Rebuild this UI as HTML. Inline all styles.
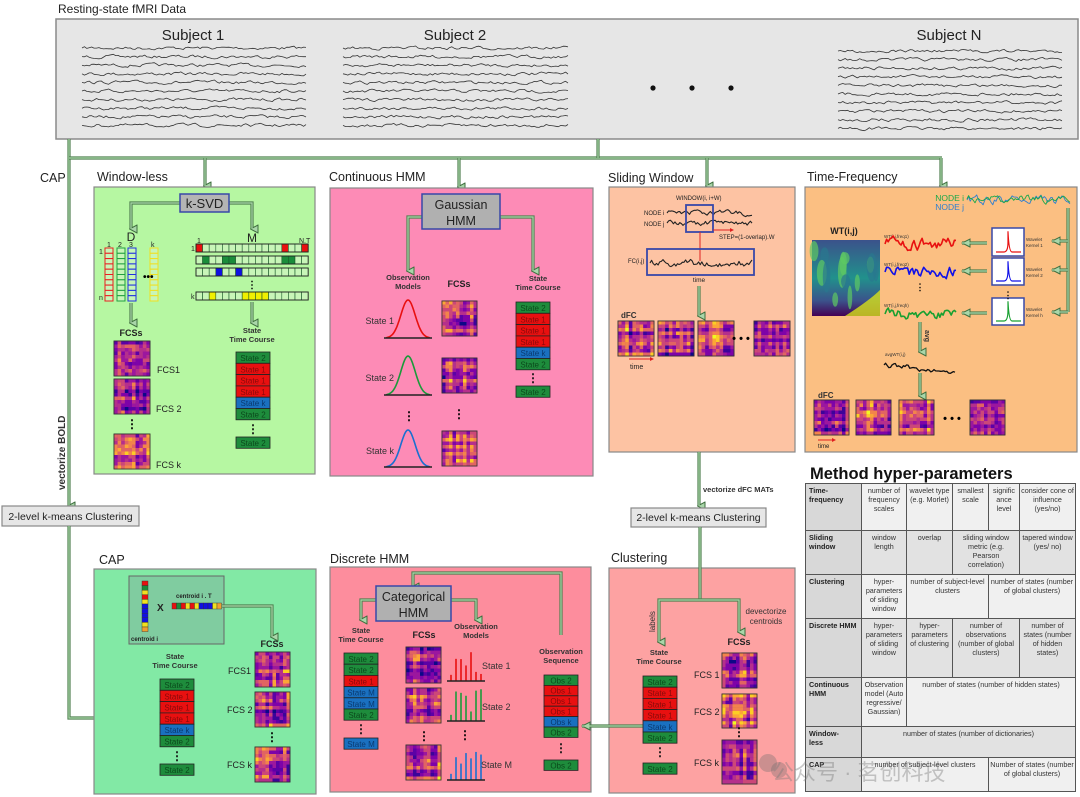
<!DOCTYPE html>
<html><head><meta charset="utf-8"><style>
html,body{margin:0;padding:0;background:#fff;width:1080px;height:797px;overflow:hidden}
svg{display:block;font-family:"Liberation Sans",sans-serif}
.c{fill:none;stroke:#4f7f4f;stroke-width:3.2}
.ci{fill:none;stroke:#a9d6a9;stroke-width:1.2}
.t{font-size:12.5px;fill:#222}
.s{font-size:7px;fill:#222}
.b{font-weight:bold}
#tbl{position:absolute;left:805px;top:483px;width:270px;height:308px;border:1.5px solid #555;border-collapse:collapse;font-family:"Liberation Sans",sans-serif;font-size:7.2px;color:#333;table-layout:fixed}
#tbl td{border:1px solid #555;vertical-align:top;text-align:center;padding:2px 1px;line-height:1.25;background:#f0f0f0}
#tbl td.h{background:#d8d8d8;text-align:left;font-weight:bold;color:#222;padding-left:3px}
#tbl td.d{background:#e2e2e2}
#wm{position:absolute;left:772px;top:755px;font-size:22px;color:rgba(120,120,120,0.4);font-family:"Liberation Sans","Noto Sans CJK SC",sans-serif;white-space:nowrap}
</style></head><body>
<svg id="S" width="1080" height="797" viewBox="0 0 1080 797" xmlns="http://www.w3.org/2000/svg">
<defs>
<marker id="ar" markerWidth="9" markerHeight="9" refX="4.5" refY="7" orient="auto" markerUnits="userSpaceOnUse" viewBox="0 0 9 9">
<path d="M0.5,1 L8.5,1 L4.5,8.5 Z" fill="#a9d6a9" stroke="#3f6f3f" stroke-width="1"/></marker>
<marker id="al" markerWidth="10" markerHeight="10" refX="9" refY="5" orient="auto" markerUnits="userSpaceOnUse" viewBox="0 0 10 10">
<path d="M1,1 L9,5 L1,9 Z" fill="#a9d6a9" stroke="#3f6f3f" stroke-width="1"/></marker>
<linearGradient id="vir" x1="0" y1="0" x2="0" y2="1"><stop offset="0" stop-color="#3b528b"/><stop offset=".5" stop-color="#21918c"/><stop offset=".8" stop-color="#3b528b"/><stop offset="1" stop-color="#440154"/></linearGradient>
</defs>

<text x="58" y="13" class="t" style="font-size:12px">Resting-state fMRI Data</text>
<rect x="56" y="19" width="1022" height="120" fill="#e6e6e6" stroke="#8a8a8a" stroke-width="1.5"/>
<text x="193" y="40" text-anchor="middle" style="font-size:15px" fill="#222">Subject 1</text>
<text x="455" y="40" text-anchor="middle" style="font-size:15px" fill="#222">Subject 2</text>
<text x="949" y="40" text-anchor="middle" style="font-size:15px" fill="#222">Subject N</text>
<circle cx="653" cy="88" r="2.6" fill="#111"/><circle cx="692" cy="88" r="2.6" fill="#111"/><circle cx="731" cy="88" r="2.6" fill="#111"/>
<g id="sq"></g>

<polyline class="c" points="69,139 69,506" marker-end="url(#ar)"/>
<polyline class="c" points="69,158 942,158"/>
<polyline class="c" points="598,139 598,158"/>
<polyline class="c" points="205,158 205,186" marker-end="url(#ar)"/>
<polyline class="c" points="459,158 459,187" marker-end="url(#ar)"/>
<polyline class="c" points="707,158 707,186" marker-end="url(#ar)"/>
<polyline class="c" points="941,158 941,186" marker-end="url(#ar)"/>
<text x="40" y="182" class="t">CAP</text>
<text transform="translate(65,490) rotate(-90)" style="font-size:10px;font-weight:bold" fill="#333">vectorize BOLD</text>

<text x="97" y="181" class="t">Window-less</text>
<rect x="94" y="187" width="221" height="287" fill="#b6f7a2" stroke="#888" stroke-width="1.2"/>
<polyline class="c" points="180,203 131,203 131,229" marker-end="url(#ar)"/>
<polyline class="c" points="229,203 252,203 252,229" marker-end="url(#ar)"/>
<rect x="180" y="194" width="49" height="18" fill="#b4b4b4" stroke="#3848a8" stroke-width="1.5"/>
<text x="204.5" y="208" text-anchor="middle" style="font-size:13px" fill="#222">k-SVD</text>
<text x="131" y="241" text-anchor="middle" style="font-size:12px" fill="#222">D</text>
<text x="252" y="242" text-anchor="middle" style="font-size:12px" fill="#222">M</text>
<g class="s"><text x="107" y="247">1</text><text x="118" y="247">2</text><text x="129" y="247">3</text><text x="151" y="247">k</text><text x="99" y="254">1</text><text x="99" y="300">n</text><text x="197" y="243">1</text><text x="299" y="243">N.T</text><text x="191" y="251">1</text><text x="191" y="299">k</text></g>
<g id="dcols"></g><g id="mrows"></g>
<text x="143" y="280" style="font-size:10px;font-weight:bold">•••</text>
<text x="252" y="288" text-anchor="middle" style="font-size:10px;font-weight:bold">⋮</text>
<polyline class="c" points="131,303 131,323" marker-end="url(#ar)"/>
<polyline class="c" points="252,302 252,323" marker-end="url(#ar)"/>
<text x="131" y="336" text-anchor="middle" style="font-size:9px;font-weight:bold" fill="#222">FCSs</text>
<text x="252" y="333" text-anchor="middle" style="font-size:7.5px;font-weight:bold" fill="#333">State</text>
<text x="252" y="342" text-anchor="middle" style="font-size:7.5px;font-weight:bold" fill="#333">Time Course</text>
<g class="hm" data-r="114,341,36,35,2"></g><g class="hm" data-r="114,379,36,35,3"></g><g class="hm" data-r="114,434,36,35,4"></g>
<text x="132" y="428" text-anchor="middle" style="font-size:12px;font-weight:bold">⋮</text>
<text x="157" y="373" style="font-size:9px" fill="#222">FCS1</text><text x="156" y="412" style="font-size:9px" fill="#222">FCS 2</text><text x="156" y="468" style="font-size:9px" fill="#222">FCS k</text>

<text x="329" y="181" class="t">Continuous HMM</text>
<rect x="330" y="188" width="263" height="288" fill="#fd8bb6" stroke="#888" stroke-width="1.2"/>
<polyline class="c" points="422,217 408,217 408,271" marker-end="url(#ar)"/>
<polyline class="c" points="500,217 533,217 533,271" marker-end="url(#ar)"/>
<rect x="422" y="194" width="78" height="35" fill="#b0b0b0" stroke="#3848a8" stroke-width="1.5"/>
<text x="461" y="209" text-anchor="middle" style="font-size:12.5px" fill="#222">Gaussian</text>
<text x="461" y="225" text-anchor="middle" style="font-size:12.5px" fill="#222">HMM</text>
<text x="408" y="280" text-anchor="middle" style="font-size:7.5px;font-weight:bold" fill="#333">Observation</text>
<text x="408" y="289" text-anchor="middle" style="font-size:7.5px;font-weight:bold" fill="#333">Models</text>
<text x="459" y="287" text-anchor="middle" style="font-size:9px;font-weight:bold" fill="#222">FCSs</text>
<text x="538" y="281" text-anchor="middle" style="font-size:7.5px;font-weight:bold" fill="#333">State</text>
<text x="538" y="290" text-anchor="middle" style="font-size:7.5px;font-weight:bold" fill="#333">Time Course</text>
<g id="gauss"></g>
<text x="394" y="324" text-anchor="end" style="font-size:9px" fill="#333">State 1</text>
<text x="394" y="381" text-anchor="end" style="font-size:9px" fill="#333">State 2</text>
<text x="394" y="454" text-anchor="end" style="font-size:9px" fill="#333">State k</text>
<text x="409" y="420" text-anchor="middle" style="font-size:12px;font-weight:bold">⋮</text>
<text x="459" y="418" text-anchor="middle" style="font-size:12px;font-weight:bold">⋮</text>
<g class="hm" data-r="442,301,35,35,5"></g><g class="hm" data-r="442,358,35,35,6"></g><g class="hm" data-r="442,431,35,35,7"></g>

<text x="608" y="182" class="t">Sliding Window</text>
<rect x="609" y="187" width="186" height="265" fill="#fdc3a3" stroke="#888" stroke-width="1.2"/>
<text x="676" y="200" class="s" style="font-size:6px">WINDOW(i, i+W)</text>
<text x="644" y="215" class="s" style="font-size:6px">NODE i</text><text x="644" y="226" class="s" style="font-size:6px">NODE j</text>
<g class="sig" data-r="667,752,213,3,#222,1.1,11"></g><g class="sig" data-r="667,752,223,3,#222,1.1,12"></g>
<rect x="686" y="205" width="27" height="27" fill="none" stroke="#3848a8" stroke-width="1.8"/>
<line x1="713" y1="230" x2="730" y2="230" stroke="#e02020" stroke-width="1"/><path d="M730,228 L734,230 L730,232Z" fill="#e02020"/>
<text x="719" y="239" class="s" style="font-size:6px">STEP=(1-overlap).W</text>
<line x1="700" y1="232" x2="700" y2="261" stroke="#e02020" stroke-width="1"/>
<rect x="647" y="249" width="107" height="26" fill="none" stroke="#3848a8" stroke-width="1.8"/>
<g class="sig" data-r="650,752,263,4,#222,1.1,13"></g>
<text x="628" y="263" class="s" style="font-size:6px">FC(i,j)</text>
<text x="699" y="282" text-anchor="middle" class="s" style="font-size:6.5px">time</text>
<polyline class="c" points="699,286 699,316" marker-end="url(#ar)"/>
<text x="621" y="318" style="font-size:8px;font-weight:bold" fill="#333">dFC</text>
<g class="hm" data-r="618,321,36,35,8"></g><g class="hm" data-r="658,321,36,35,9"></g><g class="hm" data-r="698,321,36,35,10"></g><g class="hm" data-r="754,321,36,35,11"></g>
<text x="741" y="342" text-anchor="middle" style="font-size:11px;font-weight:bold">• • •</text>
<line x1="629" y1="359" x2="650" y2="359" stroke="#e02020" stroke-width="1"/><path d="M650,357 L654,359 L650,361Z" fill="#e02020"/>
<text x="630" y="369" class="s" style="font-size:7px">time</text>
<polyline class="c" points="699,452 699,506" marker-end="url(#ar)"/>
<text x="703" y="492" style="font-size:7.5px;font-weight:bold" fill="#333">vectorize dFC MATs</text>

<text x="807" y="181" class="t">Time-Frequency</text>
<rect x="805" y="187" width="272" height="265" fill="#fbbf82" stroke="#888" stroke-width="1.2"/>
<text x="964" y="201" text-anchor="end" style="font-size:8.5px" fill="#1aa84a">NODE i</text>
<text x="964" y="210" text-anchor="end" style="font-size:8.5px" fill="#2e7fd0">NODE j</text>
<g class="sig" data-r="967,1070,200,5,#2e7fd0,0.9,21"></g><g class="sig" data-r="967,1070,199,5,#1aa84a,0.9,22"></g>
<polyline class="c" points="1068,208 1068,312"/>
<polyline class="c" points="1068,241 1052,241" marker-end="url(#al)"/>
<polyline class="c" points="1068,270 1052,270" marker-end="url(#al)"/>
<polyline class="c" points="1068,312 1052,312" marker-end="url(#al)"/>
<text x="844" y="234" text-anchor="middle" style="font-size:9px;font-weight:bold" fill="#222">WT(i,j)</text>
<rect x="812" y="240" width="68" height="76" fill="url(#vir)"/>
<g id="wt"></g>
<rect x="992" y="228" width="32" height="28" fill="#fff" stroke="#3848a8" stroke-width="1.5"/>
<rect x="992" y="258" width="32" height="27" fill="#fff" stroke="#3848a8" stroke-width="1.5"/>
<rect x="992" y="298" width="32" height="27" fill="#fff" stroke="#3848a8" stroke-width="1.5"/>
<path d="M996,252 L1004,252 Q1008,252 1008,242 Q1008,230 1008,232 Q1009,252 1012,252 L1021,252" fill="none" stroke="#e81010" stroke-width="1.2"/>
<path d="M996,281 L1004,281 Q1008,281 1008,270 Q1008,260 1008,262 Q1009,281 1012,281 L1021,281" fill="none" stroke="#1010e8" stroke-width="1.2"/>
<path d="M996,321 L1004,321 Q1008,321 1008,310 Q1008,300 1008,302 Q1009,321 1012,321 L1021,321" fill="none" stroke="#18a030" stroke-width="1.2"/>
<g style="font-size:4.5px" fill="#333"><text x="1026" y="241">Wavelet</text><text x="1026" y="247">Kernel 1</text><text x="1026" y="271">Wavelet</text><text x="1026" y="277">Kernel 2</text><text x="1026" y="311">Wavelet</text><text x="1026" y="317">Kernel h</text></g>
<text x="1008" y="298" text-anchor="middle" style="font-size:9px;font-weight:bold">⋮</text>
<text x="920" y="290" text-anchor="middle" style="font-size:9px;font-weight:bold">⋮</text>
<polyline class="c" points="987,243 962,243" marker-end="url(#al)"/>
<polyline class="c" points="987,271 962,271" marker-end="url(#al)"/>
<polyline class="c" points="987,313 962,313" marker-end="url(#al)"/>
<g style="font-size:4.5px" fill="#333"><text x="884" y="238">WT(i,j,freq1)</text><text x="884" y="266">WT(i,j,freq2)</text><text x="884" y="307">WT(i,j,freqh)</text></g>
<g class="sig" data-r="885,956,244,7,#e81010,1.6,31"></g>
<g class="sig" data-r="885,956,272,7,#1010e8,1.6,32"></g>
<g class="sig" data-r="885,956,314,6,#18a030,1.6,33"></g>
<polyline class="c" points="920,322 920,352" marker-end="url(#ar)"/>
<text transform="translate(925,330) rotate(90)" style="font-size:7px;font-weight:bold" fill="#333">avg</text>
<text x="885" y="356" style="font-size:4.5px" fill="#333">avgWT(i,j)</text>
<g class="sig" data-r="884,955,365,3,#111,1.3,34" data-slope="7"></g>
<polyline class="c" points="920,373 920,396" marker-end="url(#ar)"/>
<text x="818" y="398" style="font-size:8px;font-weight:bold" fill="#333">dFC</text>
<g class="hm" data-r="814,400,35,35,12"></g><g class="hm" data-r="856,400,35,35,13"></g><g class="hm" data-r="899,400,35,35,14"></g><g class="hm" data-r="970,400,35,35,15"></g>
<text x="952" y="422" text-anchor="middle" style="font-size:11px;font-weight:bold">• • •</text>
<line x1="818" y1="440" x2="832" y2="440" stroke="#e02020" stroke-width="1"/><path d="M832,438 L836,440 L832,442Z" fill="#e02020"/>
<text x="818" y="448" class="s" style="font-size:6px">time</text>

<rect x="2" y="506" width="137" height="20" fill="#e6e6e6" stroke="#888" stroke-width="1.2"/>
<text x="70.5" y="520" text-anchor="middle" style="font-size:10.5px" fill="#222">2-level k-means Clustering</text>
<polyline class="c" points="69,526 69,718 160,718" marker-end="url(#al)"/>
<polyline class="c" points="109,718 109,609 128,609" marker-end="url(#al)"/>
<text x="123" y="713" style="font-size:9px" fill="#333">labels</text>

<text x="99" y="564" class="t">CAP</text>
<rect x="94" y="569" width="222" height="225" fill="#82e9a5" stroke="#888" stroke-width="1.2"/>
<rect x="129" y="576" width="95" height="68" fill="#80cca0" stroke="#666" stroke-width="1"/>
<g id="cbar"></g>
<text x="157" y="611" style="font-size:10px;font-weight:bold" fill="#222">X</text>
<text x="176" y="598" style="font-size:6px;font-weight:bold" fill="#222">centroid i . T</text>
<text x="131" y="641" style="font-size:6px;font-weight:bold" fill="#222">centroid i</text>
<polyline class="c" points="222,606 272,606 272,637" marker-end="url(#ar)"/>
<text x="272" y="647" text-anchor="middle" style="font-size:9px;font-weight:bold" fill="#222">FCSs</text>
<text x="175" y="659" text-anchor="middle" style="font-size:7.5px;font-weight:bold" fill="#333">State</text>
<text x="175" y="668" text-anchor="middle" style="font-size:7.5px;font-weight:bold" fill="#333">Time Course</text>
<g class="hm" data-r="255,652,35,35,16"></g><g class="hm" data-r="255,692,35,35,17"></g><g class="hm" data-r="255,747,35,35,18"></g>
<text x="272" y="741" text-anchor="middle" style="font-size:12px;font-weight:bold">⋮</text>
<text x="228" y="674" style="font-size:9px" fill="#222">FCS1</text><text x="227" y="713" style="font-size:9px" fill="#222">FCS 2</text><text x="227" y="768" style="font-size:9px" fill="#222">FCS k</text>

<text x="330" y="563" class="t">Discrete HMM</text>
<rect x="330" y="567" width="261" height="225" fill="#fd8d9d" stroke="#888" stroke-width="1.2"/>
<polyline class="c" points="561,635 561,573 413,573 413,587" marker-end="url(#ar)"/>
<polyline class="c" points="376,600 361,600 361,620" marker-end="url(#ar)"/>
<polyline class="c" points="451,600 476,600 476,620" marker-end="url(#ar)"/>
<rect x="376" y="586" width="75" height="35" fill="#b0b0b0" stroke="#3848a8" stroke-width="1.5"/>
<text x="413.5" y="601" text-anchor="middle" style="font-size:12.5px" fill="#222">Categorical</text>
<text x="413.5" y="617" text-anchor="middle" style="font-size:12.5px" fill="#222">HMM</text>
<text x="361" y="633" text-anchor="middle" style="font-size:7.5px;font-weight:bold" fill="#333">State</text>
<text x="361" y="642" text-anchor="middle" style="font-size:7.5px;font-weight:bold" fill="#333">Time Course</text>
<text x="424" y="638" text-anchor="middle" style="font-size:9px;font-weight:bold" fill="#222">FCSs</text>
<text x="476" y="629" text-anchor="middle" style="font-size:7.5px;font-weight:bold" fill="#333">Observation</text>
<text x="476" y="638" text-anchor="middle" style="font-size:7.5px;font-weight:bold" fill="#333">Models</text>
<g class="hm" data-r="406,647,35,36,19"></g><g class="hm" data-r="406,688,35,35,20"></g><g class="hm" data-r="406,745,35,35,21"></g>
<text x="424" y="740" text-anchor="middle" style="font-size:12px;font-weight:bold">⋮</text>
<text x="465" y="739" text-anchor="middle" style="font-size:12px;font-weight:bold">⋮</text>
<g id="bars"></g>
<text x="482" y="669" style="font-size:9px" fill="#333">State 1</text>
<text x="482" y="710" style="font-size:9px" fill="#333">State 2</text>
<text x="481" y="768" style="font-size:9px" fill="#333">State M</text>
<text x="561" y="654" text-anchor="middle" style="font-size:7.5px;font-weight:bold" fill="#333">Observation</text>
<text x="561" y="663" text-anchor="middle" style="font-size:7.5px;font-weight:bold" fill="#333">Sequence</text>

<rect x="631" y="508" width="135" height="19" fill="#e6e6e6" stroke="#888" stroke-width="1.2"/>
<text x="698.5" y="521" text-anchor="middle" style="font-size:10.5px" fill="#222">2-level k-means Clustering</text>
<text x="611" y="562" class="t">Clustering</text>
<rect x="609" y="568" width="186" height="225" fill="#fda2a2" stroke="#888" stroke-width="1.2"/>
<polyline class="c" points="700,527 700,600"/>
<polyline class="c" points="700,600 659,600 659,642" marker-end="url(#ar)"/>
<polyline class="c" points="700,600 739,600 739,632" marker-end="url(#ar)"/>
<text transform="translate(655,632) rotate(-90)" style="font-size:8px" fill="#333">labels</text>
<text x="766" y="614" text-anchor="middle" style="font-size:8px" fill="#333">devectorize</text>
<text x="766" y="624" text-anchor="middle" style="font-size:8px" fill="#333">centroids</text>
<text x="739" y="645" text-anchor="middle" style="font-size:9px;font-weight:bold" fill="#222">FCSs</text>
<text x="659" y="655" text-anchor="middle" style="font-size:7.5px;font-weight:bold" fill="#333">State</text>
<text x="659" y="664" text-anchor="middle" style="font-size:7.5px;font-weight:bold" fill="#333">Time Course</text>
<g class="hm" data-r="722,653,35,35,22"></g><g class="hm" data-r="722,694,35,34,23"></g><g class="hm" data-r="722,740,35,44,24"></g>
<text x="739" y="736" text-anchor="middle" style="font-size:12px;font-weight:bold">⋮</text>
<text x="694" y="678" style="font-size:9px" fill="#222">FCS 1</text><text x="694" y="715" style="font-size:9px" fill="#222">FCS 2</text><text x="694" y="766" style="font-size:9px" fill="#222">FCS k</text>
<polyline class="c" points="643,726 582,726" marker-end="url(#al)"/>

<g style="font-size:8px" text-anchor="middle">
<g transform="translate(236,352)">
<rect y="0" width="34" height="11.3" fill="#1e8c3c" stroke="#222" stroke-width=".8"/><text x="17" y="9" fill="#0b4a1c">State 2</text>
<rect y="11.3" width="34" height="11.3" fill="#e81010" stroke="#222" stroke-width=".8"/><text x="17" y="20.3" fill="#8a0a0a">State 1</text>
<rect y="22.6" width="34" height="11.3" fill="#e81010" stroke="#222" stroke-width=".8"/><text x="17" y="31.6" fill="#8a0a0a">State 1</text>
<rect y="33.9" width="34" height="11.3" fill="#e81010" stroke="#222" stroke-width=".8"/><text x="17" y="42.9" fill="#8a0a0a">State 1</text>
<rect y="45.2" width="34" height="11.3" fill="#1a70c0" stroke="#222" stroke-width=".8"/><text x="17" y="54.2" fill="#0a3a70">State k</text>
<rect y="56.5" width="34" height="11.3" fill="#1e8c3c" stroke="#222" stroke-width=".8"/><text x="17" y="65.5" fill="#0b4a1c">State 2</text>
<text x="17" y="81" style="font-size:12px;font-weight:bold" fill="#111">⋮</text>
<rect y="85" width="34" height="11.3" fill="#1e8c3c" stroke="#222" stroke-width=".8"/><text x="17" y="94" fill="#0b4a1c">State 2</text>
</g>
<g transform="translate(516,302)">
<rect y="0" width="34" height="11.3" fill="#1e8c3c" stroke="#222" stroke-width=".8"/><text x="17" y="9" fill="#0b4a1c">State 2</text>
<rect y="11.3" width="34" height="11.3" fill="#e81010" stroke="#222" stroke-width=".8"/><text x="17" y="20.3" fill="#8a0a0a">State 1</text>
<rect y="22.6" width="34" height="11.3" fill="#e81010" stroke="#222" stroke-width=".8"/><text x="17" y="31.6" fill="#8a0a0a">State 1</text>
<rect y="33.9" width="34" height="11.3" fill="#e81010" stroke="#222" stroke-width=".8"/><text x="17" y="42.9" fill="#8a0a0a">State 1</text>
<rect y="45.2" width="34" height="11.3" fill="#1a70c0" stroke="#222" stroke-width=".8"/><text x="17" y="54.2" fill="#0a3a70">State k</text>
<rect y="56.5" width="34" height="11.3" fill="#1e8c3c" stroke="#222" stroke-width=".8"/><text x="17" y="65.5" fill="#0b4a1c">State 2</text>
<text x="17" y="80" style="font-size:12px;font-weight:bold" fill="#111">⋮</text>
<rect y="84" width="34" height="11.3" fill="#1e8c3c" stroke="#222" stroke-width=".8"/><text x="17" y="93" fill="#0b4a1c">State 2</text>
</g>
<g transform="translate(160,679)">
<rect y="0" width="34" height="11.3" fill="#1e8c3c" stroke="#222" stroke-width=".8"/><text x="17" y="9" fill="#0b4a1c">State 2</text>
<rect y="11.3" width="34" height="11.3" fill="#e81010" stroke="#222" stroke-width=".8"/><text x="17" y="20.3" fill="#8a0a0a">State 1</text>
<rect y="22.6" width="34" height="11.3" fill="#e81010" stroke="#222" stroke-width=".8"/><text x="17" y="31.6" fill="#8a0a0a">State 1</text>
<rect y="33.9" width="34" height="11.3" fill="#e81010" stroke="#222" stroke-width=".8"/><text x="17" y="42.9" fill="#8a0a0a">State 1</text>
<rect y="45.2" width="34" height="11.3" fill="#1a70c0" stroke="#222" stroke-width=".8"/><text x="17" y="54.2" fill="#0a3a70">State k</text>
<rect y="56.5" width="34" height="11.3" fill="#1e8c3c" stroke="#222" stroke-width=".8"/><text x="17" y="65.5" fill="#0b4a1c">State 2</text>
<text x="17" y="81" style="font-size:12px;font-weight:bold" fill="#111">⋮</text>
<rect y="85" width="34" height="11.3" fill="#1e8c3c" stroke="#222" stroke-width=".8"/><text x="17" y="94" fill="#0b4a1c">State 2</text>
</g>
<g transform="translate(344,653)">
<rect y="0" width="34" height="11.2" fill="#1e8c3c" stroke="#222" stroke-width=".8"/><text x="17" y="9" fill="#0b4a1c">State 2</text>
<rect y="11.2" width="34" height="11.2" fill="#1e8c3c" stroke="#222" stroke-width=".8"/><text x="17" y="20.2" fill="#0b4a1c">State 2</text>
<rect y="22.4" width="34" height="11.2" fill="#e81010" stroke="#222" stroke-width=".8"/><text x="17" y="31.4" fill="#8a0a0a">State 1</text>
<rect y="33.6" width="34" height="11.2" fill="#1a70c0" stroke="#222" stroke-width=".8"/><text x="17" y="42.6" fill="#0a3a70">State M</text>
<rect y="44.8" width="34" height="11.2" fill="#1a70c0" stroke="#222" stroke-width=".8"/><text x="17" y="53.8" fill="#0a3a70">State M</text>
<rect y="56" width="34" height="11.2" fill="#1e8c3c" stroke="#222" stroke-width=".8"/><text x="17" y="65" fill="#0b4a1c">State 2</text>
<text x="17" y="80" style="font-size:12px;font-weight:bold" fill="#111">⋮</text>
<rect y="85" width="34" height="11.2" fill="#1a70c0" stroke="#222" stroke-width=".8"/><text x="17" y="94" fill="#0a3a70">State M</text>
</g>
<g transform="translate(544,675)">
<rect y="0" width="34" height="10.4" fill="#1e8c3c" stroke="#222" stroke-width=".8"/><text x="17" y="8.3" fill="#0b4a1c">Obs 2</text>
<rect y="10.4" width="34" height="10.4" fill="#e81010" stroke="#222" stroke-width=".8"/><text x="17" y="18.7" fill="#8a0a0a">Obs 1</text>
<rect y="20.8" width="34" height="10.4" fill="#e81010" stroke="#222" stroke-width=".8"/><text x="17" y="29.1" fill="#8a0a0a">Obs 1</text>
<rect y="31.2" width="34" height="10.4" fill="#e81010" stroke="#222" stroke-width=".8"/><text x="17" y="39.5" fill="#8a0a0a">Obs 1</text>
<rect y="41.6" width="34" height="10.4" fill="#1a70c0" stroke="#222" stroke-width=".8"/><text x="17" y="49.9" fill="#0a3a70">Obs k</text>
<rect y="52" width="34" height="10.4" fill="#1e8c3c" stroke="#222" stroke-width=".8"/><text x="17" y="60.3" fill="#0b4a1c">Obs 2</text>
<text x="17" y="77" style="font-size:12px;font-weight:bold" fill="#111">⋮</text>
<rect y="85" width="34" height="10.4" fill="#1e8c3c" stroke="#222" stroke-width=".8"/><text x="17" y="93.3" fill="#0b4a1c">Obs 2</text>
</g>
<g transform="translate(643,676)">
<rect y="0" width="34" height="11.2" fill="#1e8c3c" stroke="#222" stroke-width=".8"/><text x="17" y="9" fill="#0b4a1c">State 2</text>
<rect y="11.2" width="34" height="11.2" fill="#e81010" stroke="#222" stroke-width=".8"/><text x="17" y="20.2" fill="#8a0a0a">State 1</text>
<rect y="22.4" width="34" height="11.2" fill="#e81010" stroke="#222" stroke-width=".8"/><text x="17" y="31.4" fill="#8a0a0a">State 1</text>
<rect y="33.6" width="34" height="11.2" fill="#e81010" stroke="#222" stroke-width=".8"/><text x="17" y="42.6" fill="#8a0a0a">State 1</text>
<rect y="44.8" width="34" height="11.2" fill="#1a70c0" stroke="#222" stroke-width=".8"/><text x="17" y="53.8" fill="#0a3a70">State k</text>
<rect y="56" width="34" height="11.2" fill="#1e8c3c" stroke="#222" stroke-width=".8"/><text x="17" y="65" fill="#0b4a1c">State 2</text>
<text x="17" y="80" style="font-size:12px;font-weight:bold" fill="#111">⋮</text>
<rect y="87" width="34" height="11.2" fill="#1e8c3c" stroke="#222" stroke-width=".8"/><text x="17" y="96" fill="#0b4a1c">State 2</text>
</g>
</g>

<text x="810" y="479" style="font-size:16.5px;font-weight:bold" fill="#111">Method hyper-parameters</text>
<circle cx="768" cy="763" r="9" fill="rgba(110,110,110,0.35)"/><circle cx="779" cy="770" r="8" fill="rgba(110,110,110,0.35)"/>
</svg>

<table id="tbl">
<colgroup><col style="width:56px"><col style="width:45px"><col style="width:46px"><col style="width:36px"><col style="width:31px"><col style="width:56px"></colgroup>
<tr style="height:47px"><td class="h">Time-<br>frequency</td><td>number of frequency scales</td><td>wavelet type (e.g. Morlet)</td><td>smallest scale</td><td>signific ance level</td><td>consider cone of influence (yes/no)</td></tr>
<tr style="height:44px"><td class="h">Sliding window</td><td class="d">window length</td><td class="d">overlap</td><td class="d" colspan="2">sliding window metric (e.g. Pearson correlation)</td><td class="d">tapered window (yes/ no)</td></tr>
<tr style="height:44px"><td class="h">Clustering</td><td>hyper-parameters of sliding window</td><td colspan="2">number of subject-level clusters</td><td colspan="2">number of states (number of global clusters)</td></tr>
<tr style="height:59px"><td class="h">Discrete HMM</td><td class="d">hyper-parameters of sliding window</td><td class="d">hyper-parameters of clustering</td><td class="d" colspan="2">number of observations (number of global clusters)</td><td class="d">number of states (number of hidden states)</td></tr>
<tr style="height:49px"><td class="h">Continuous HMM</td><td>Observation model (Auto regressive/ Gaussian)</td><td colspan="4">number of states (number of hidden states)</td></tr>
<tr style="height:31px"><td class="h">Window-<br>less</td><td class="d" colspan="5">number of states (number of dictionaries)</td></tr>
<tr style="height:34px"><td class="h">CAP</td><td colspan="3">number of subject-level clusters</td><td colspan="2">Number of states (number of global clusters)</td></tr>
</table>
<div id="wm">公众号 · 茗创科技</div>

<script>
(function(){
var NS="http://www.w3.org/2000/svg",S=document.getElementById("S");
var seed=7;function R(){seed=(seed*16807)%2147483647;return (seed-1)/2147483646;}
function el(t,a,p){var e=document.createElementNS(NS,t);for(var k in a)e.setAttribute(k,a[k]);(p||S).appendChild(e);return e;}
function sig(x1,x2,y,amp,col,w,p,slope,step){step=step||1.6;var d="M"+x1+","+y,n=Math.floor((x2-x1)/step),v=0;for(var i=1;i<=n;i++){v=v*0.55+(R()-0.5)*amp*1.4;var yy=y+v+(slope?slope*i/n:0);d+=" L"+(x1+i*(x2-x1)/n).toFixed(1)+","+yy.toFixed(1);}el("path",{d:d,fill:"none",stroke:col,"stroke-width":w,"stroke-linejoin":"round"},p);}
var sq=document.getElementById("sq");
[[82,306,48],[343,568,48],[838,1062,51]].forEach(function(s){for(var i=0;i<10;i++)sig(s[0],s[1],s[2]+i*8.6,1.9,"#333",0.8,sq,0,2.4);});
document.querySelectorAll(".sig").forEach(function(g){var r=g.getAttribute("data-r").split(",");seed=+r[6]*97;sig(+r[0],+r[1],+r[2],+r[3],r[4],+r[5],g,+(g.getAttribute("data-slope")||0));});
var pal=["#0d0887","#3b049a","#5c01a6","#7e03a8","#9c179e","#b52f8c","#cc4778","#e16462","#f2844b","#fca636","#fcce25","#f0f921"];
document.querySelectorAll(".hm").forEach(function(g){var r=g.getAttribute("data-r").split(",").map(Number);seed=r[4]*131+5;var x=r[0],y=r[1],w=r[2],h=r[3],n=10,cw=w/n,ch=h/n;var bias=R()*0.35;
var rowv=[];for(var i=0;i<n;i++)rowv.push(R());
el("rect",{x:x,y:y,width:w,height:h,fill:"#4a0a9a",stroke:"#333","stroke-width":.8},g);
for(var i=0;i<n;i++)for(var j=0;j<n;j++){var v=(rowv[i]+rowv[j])/2*0.75+R()*0.3+bias-0.05;v=Math.max(0,Math.min(.999,v));el("rect",{x:(x+j*cw).toFixed(2),y:(y+i*ch).toFixed(2),width:(cw+.2).toFixed(2),height:(ch+.2).toFixed(2),fill:pal[Math.floor(v*pal.length)]},g);}
el("rect",{x:x,y:y,width:w,height:h,fill:"none",stroke:"#333","stroke-width":.8},g);});
var dc=document.getElementById("dcols");
[[105,"#e82020"],[117,"#20a040"],[128,"#2030e0"],[150,"#f0e020"]].forEach(function(c){for(var i=0;i<10;i++)el("rect",{x:c[0],y:248+i*5.3,width:8,height:5.3,fill:"#c8f5b8",stroke:c[1],"stroke-width":1},dc);});
var mr=document.getElementById("mrows");
var rows=[[244,{0:"#e81010",13:"#e81010",16:"#e81010"}],[256,{1:"#1a8c3a",4:"#1a8c3a",5:"#1a8c3a",13:"#1a8c3a",14:"#1a8c3a"}],[268,{3:"#1010e0",6:"#1010e0"}],[292,{2:"#f0f000",7:"#f0f000",8:"#f0f000",9:"#f0f000",10:"#f0f000"}]];
rows.forEach(function(r){for(var i=0;i<17;i++){el("rect",{x:196+i*6.6,y:r[0],width:6.6,height:8,fill:r[1][i]||"#c8f5b8",stroke:"#1a5a2a","stroke-width":.6},mr);}el("rect",{x:196,y:r[0],width:112.2,height:8,fill:"none",stroke:"#222","stroke-width":.9},mr);});
var ga=document.getElementById("gauss");
[[300,338,"#e81010"],[356,395,"#1a9a3a"],[430,467,"#1a70d0"]].forEach(function(q){var d="";for(var i=0;i<=40;i++){var xx=386+i*1.1,t=(i-20)/6.5;var yy=q[1]-(q[1]-q[0])*Math.exp(-t*t/2);d+=(i?" L":"M")+xx.toFixed(1)+","+yy.toFixed(1);}el("path",{d:d,fill:"none",stroke:q[2],"stroke-width":1.6},ga);el("line",{x1:384,y1:q[1],x2:432,y2:q[1],stroke:"#222","stroke-width":1.4},ga);});
var br=document.getElementById("bars");
[[681,"#e81010"],[721,"#1a9a3a"],[780,"#1a70d0"]].forEach(function(b){seed=b[0];for(var i=0;i<7;i++){var h=6+R()*28;el("line",{x1:451+i*5,y1:b[0],x2:451+i*5,y2:b[0]-h,stroke:b[1],"stroke-width":1.6},br);}el("line",{x1:447,y1:b[0],x2:485,y2:b[0],stroke:"#222","stroke-width":1.4},br);});
var cb=document.getElementById("cbar");var cc=["#e81010","#1a8c3a","#f0e020","#e81010","#f0e020","#1010e0","#1010e0","#1010e0","#1010e0","#f0e020","#f0a030"];
cc.forEach(function(c,i){el("rect",{x:142,y:581+i*4.6,width:6,height:4.6,fill:c,stroke:"#333","stroke-width":.4},cb);});
var ch=["#e81010","#1a8c3a","#e81010","#f0e020","#e81010","#f0e020","#1010e0","#1010e0","#1010e0","#f0e020","#f0a030"];
ch.forEach(function(c,i){el("rect",{x:172+i*4.5,y:603,width:4.5,height:6,fill:c,stroke:"#333","stroke-width":.4},cb);});
var wt=document.getElementById("wt");seed=99;
for(var i=0;i<14;i++){el("ellipse",{cx:814+R()*64,cy:250+R()*50,rx:2+R()*3,ry:6+R()*10,fill:R()>.5?"#5ec962":"#2a788e",opacity:.7},wt);}
el("path",{d:"M845,316 Q870,300 880,290 L880,316Z",fill:"#d8e219",opacity:.8},wt);
document.querySelectorAll(".c").forEach(function(c){var n=c.cloneNode();n.setAttribute("class","ci");n.removeAttribute("marker-end");c.parentNode.insertBefore(n,c.nextSibling);});
})();
</script>
</body></html>
